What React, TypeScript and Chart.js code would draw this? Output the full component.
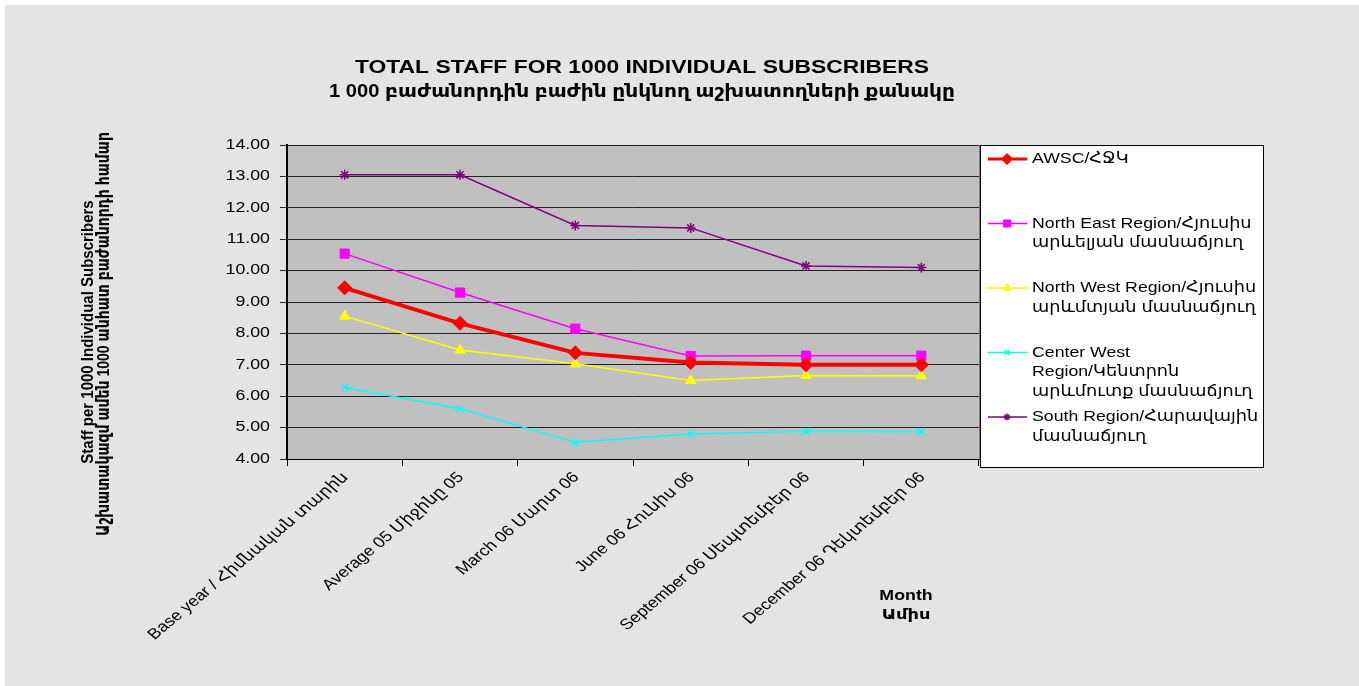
import React, { useEffect, useRef } from 'react';
import { Chart, registerables } from 'chart.js';
import { drawPoint } from 'chart.js/helpers';

Chart.register(...registerables);

// ---------------- data ----------------
const categories = [
  'Base year / Հիմնական տարին',
  'Average 05 Միջինը 05',
  'March 06 Մարտ 06',
  'June 06 Հունիս 06',
  'September 06 Սեպտեմբեր 06',
  'December 06 Դեկտեմբեր 06',
];
const awsc = [9.45, 8.32, 7.38, 7.07, 7.0, 7.0];
const northEast = [10.54, 9.3, 8.15, 7.28, 7.29, 7.29];
const northWest = [8.55, 7.47, 7.03, 6.5, 6.66, 6.65];
const centerWest = [6.28, 5.6, 4.53, 4.8, 4.88, 4.87];
const south = [13.05, 13.05, 11.44, 11.36, 10.15, 10.1];

const legendAwsc = ['AWSC/ՀՋԿ'];
const legendNorthEast = ['North East Region/Հյուսիս', 'արևելյան մասնաճյուղ'];
const legendNorthWest = ['North West Region/Հյուսիս', 'արևմտյան մասնաճյուղ'];
const legendCenterWest = ['Center West', 'Region/Կենտրոն', 'արևմուտք մասնաճյուղ'];
const legendSouth = ['South Region/Հարավային', 'մասնաճյուղ'];

const titleLines = [
  'TOTAL STAFF FOR 1000 INDIVIDUAL SUBSCRIBERS',
  '1 000 բաժանորդին բաժին ընկնող աշխատողների քանակը',
];
const yTitleLines = [
  'Staff per 1000 Individual Subscribers',
  'Աշխատակազմ ամեն 1000 անհատ բաժանորդի համար',
];
const xTitleLines = ['Month', 'Ամիս'];
const yMin = 4;
const yMax = 14;
const yStep = 1;

// ---------------- style ----------------
const FONT = '"Liberation Sans", "DejaVu Sans", Arial, sans-serif';
const SX = 1.27; // horizontal stretch of the reference's text

function txt(
  ctx: CanvasRenderingContext2D,
  text: string,
  x: number,
  y: number,
  font: string,
  align: CanvasTextAlign,
  angle = 0,
  sx = SX
) {
  ctx.save();
  ctx.translate(x, y);
  ctx.scale(sx, 1);
  if (angle) ctx.rotate(angle);
  ctx.font = font;
  ctx.textAlign = align;
  ctx.textBaseline = 'middle';
  ctx.fillStyle = '#000';
  ctx.fillText(text, 0, 0);
  ctx.restore();
}

const series = [
  { label: legendAwsc, data: awsc, color: '#FF0000', width: 4, style: 'rectRot', radius: 7, pbw: 1 },
  { label: legendNorthEast, data: northEast, color: '#FF00FF', width: 1.5, style: 'rect', radius: 6.5, pbw: 1 },
  { label: legendNorthWest, data: northWest, color: '#FFFF00', width: 1.5, style: 'triangle', radius: 6, pbw: 1 },
  { label: legendCenterWest, data: centerWest, color: '#00FFFF', width: 1.5, style: 'crossRot', radius: 5, pbw: 1.5 },
  { label: legendSouth, data: south, color: '#800080', width: 1.5, style: 'star', radius: 5, pbw: 1.5 },
];

const decorPlugin = {
  id: 'decor',
  beforeDraw(chart: any) {
    const ctx: CanvasRenderingContext2D = chart.ctx;
    const { width, height, chartArea: a } = chart;
    ctx.save();
    ctx.fillStyle = '#FFFFFF';
    ctx.fillRect(0, 0, width, height);
    ctx.fillStyle = '#E4E4E4';
    ctx.fillRect(5, 5, width - 5, height - 5);
    ctx.fillStyle = '#C0C0C0';
    ctx.fillRect(a.left, a.top, a.right - a.left, a.bottom - a.top);
    ctx.strokeStyle = '#808080';
    ctx.lineWidth = 1;
    ctx.strokeRect(a.left + 0.5, a.top + 0.5, a.right - a.left, a.bottom - a.top);
    ctx.restore();
  },
  afterDraw(chart: any) {
    const ctx: CanvasRenderingContext2D = chart.ctx;
    const a = chart.chartArea;
    // titles
    txt(ctx, titleLines[0], 642, 68, `bold 18px ${FONT}`, 'center');
    txt(ctx, titleLines[1], 642, 92, `bold 18px ${FONT}`, 'center', 0, 1.12);
    // y title
    txt(ctx, yTitleLines[0], 88, 332, `bold 15px ${FONT}`, 'center', -Math.PI / 2, 1.15);
    txt(ctx, yTitleLines[1], 104, 334, `bold 14px ${FONT}`, 'center', -Math.PI / 2, 1.2);
    // x title
    xTitleLines.forEach((t, i) => txt(ctx, t, 906, 596 + i * 19, `bold 14px ${FONT}`, 'center'));
    // y tick labels
    const ys = chart.scales.y;
    ys.ticks.forEach((tk: any, i: number) => {
      txt(ctx, Number(tk.value).toFixed(2), a.left - 17, ys.getPixelForTick(i), `14px ${FONT}`, 'right');
    });
    // x tick labels
    const xs = chart.scales.x;
    categories.forEach((c, i) => {
      txt(ctx, c, xs.getPixelForValue(i) + 1, a.bottom + 16, `15px ${FONT}`, 'right', -Math.PI / 4, 1.2);
    });
    // legend
    const lx = a.right + 1;
    const ly = a.top;
    ctx.save();
    ctx.fillStyle = '#FFFFFF';
    ctx.fillRect(lx, ly, 283, 322);
    ctx.strokeStyle = '#000';
    ctx.lineWidth = 1;
    ctx.strokeRect(lx + 0.5, ly + 0.5, 283, 322);
    series.forEach((s, i) => {
      const y = ly + 14 + i * 64.5;
      ctx.strokeStyle = s.color;
      ctx.fillStyle = s.color;
      ctx.lineWidth = i === 0 ? 3 : 1.5;
      ctx.beginPath();
      ctx.moveTo(lx + 8, y);
      ctx.lineTo(lx + 47, y);
      ctx.stroke();
      ctx.lineWidth = s.pbw;
      drawPoint(ctx, { pointStyle: s.style, radius: s.radius - 1.5, borderWidth: s.pbw, rotation: 0 } as any, lx + 27, y);
      s.label.forEach((l, j) => txt(ctx, l, lx + 52, y + j * 19.5, `15px ${FONT}`, 'left', 0, 1.18));
    });
    ctx.restore();
  },
};

export default function App() {
  const ref = useRef<HTMLCanvasElement>(null);
  useEffect(() => {
    document.body.style.margin = '0';
    const chart = new Chart(ref.current as HTMLCanvasElement, {
      type: 'line',
      data: {
        labels: categories,
        datasets: series.map((s) => ({
          label: s.label.join(' '),
          data: s.data,
          borderColor: s.color,
          backgroundColor: s.color,
          borderWidth: s.width,
          pointStyle: s.style as any,
          pointRadius: s.radius,
          pointBorderWidth: s.pbw,
          pointBackgroundColor: s.color,
          pointBorderColor: s.color,
          tension: 0,
          fill: false,
        })),
      },
      options: {
        responsive: false,
        animation: false,
        devicePixelRatio: 1,
        layout: { padding: { left: 0, top: 145, right: 380, bottom: 0 } },
        plugins: { legend: { display: false }, title: { display: false }, tooltip: { enabled: false } },
        scales: {
          x: {
            type: 'category',
            offset: true,
            grid: { offset: true, drawOnChartArea: false, drawTicks: true, tickLength: 7, color: '#000', lineWidth: 1 },
            border: { display: true, color: '#000', width: 1 },
            ticks: { display: false },
            afterFit: (s: any) => {
              s.height = 227;
            },
          },
          y: {
            min: yMin,
            max: yMax,
            ticks: { display: false, stepSize: yStep },
            grid: { color: '#222', lineWidth: 1, drawTicks: true, tickLength: 7 },
            border: { display: true, color: '#000', width: 2 },
            afterFit: (s: any) => {
              s.width = 287;
            },
          },
        },
      },
      plugins: [decorPlugin],
    });
    return () => chart.destroy();
  }, []);
  return (
    <div style={{ width: 1359, height: 686 }}>
      <canvas ref={ref} width={1359} height={686} style={{ display: 'block' }} />
    </div>
  );
}
